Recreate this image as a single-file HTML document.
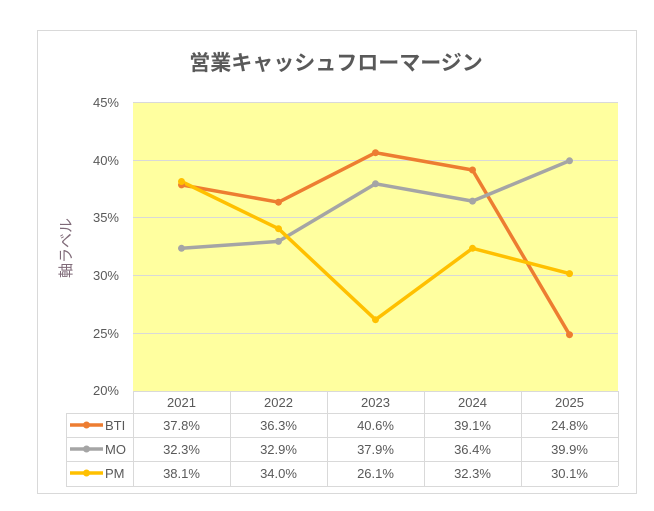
<!DOCTYPE html>
<html><head><meta charset="utf-8"><style>
body{margin:0;background:#fff}
svg{display:block;font-family:"Liberation Sans","Noto Sans CJK JP",sans-serif}
</style></head><body>
<svg width="654" height="511" viewBox="0 0 654 511">
<rect x="37.5" y="30.5" width="599" height="463" fill="#fff" stroke="#d9d9d9"/>
<text x="336" y="70" text-anchor="middle" font-size="21" font-weight="bold" fill="#595959" font-family="'Noto Sans CJK JP',sans-serif">営業キャッシュフローマージン</text>
<rect x="133" y="102" width="485" height="289" fill="#ffff9f"/>
<g stroke="#d9d9d9" stroke-width="1">
<line x1="133" y1="102.5" x2="618" y2="102.5"/>
<line x1="133" y1="160.5" x2="618" y2="160.5"/>
<line x1="133" y1="217.5" x2="618" y2="217.5"/>
<line x1="133" y1="275.5" x2="618" y2="275.5"/>
<line x1="133" y1="333.5" x2="618" y2="333.5"/>
</g>
<g font-size="13" fill="#595959" text-anchor="end">
<text x="119" y="107">45%</text><text x="119" y="165">40%</text><text x="119" y="222">35%</text>
<text x="119" y="280">30%</text><text x="119" y="338">25%</text><text x="119" y="395">20%</text>
</g>
<text transform="translate(71,248) rotate(-90)" text-anchor="middle" font-size="15" fill="#7f6a78" font-family="'Noto Sans CJK JP',sans-serif">軸ラベル</text>
<g fill="none" stroke-width="3.5" stroke-linejoin="round">
<polyline stroke="#ed7d31" points="181.5,184.9 278.5,202.2 375.5,152.7 472.5,170 569.5,334.7"/>
<polyline stroke="#a5a5a5" points="181.5,248.3 278.5,241.4 375.5,183.8 472.5,201.1 569.5,160.8"/>
<polyline stroke="#ffc000" points="181.5,181.5 278.5,228.7 375.5,319.7 472.5,248.3 569.5,273.6"/>
</g>
<g fill="#ed7d31"><circle cx="181.5" cy="184.9" r="3.5"/><circle cx="278.5" cy="202.2" r="3.5"/><circle cx="375.5" cy="152.7" r="3.5"/><circle cx="472.5" cy="170" r="3.5"/><circle cx="569.5" cy="334.7" r="3.5"/></g>
<g fill="#a5a5a5"><circle cx="181.5" cy="248.3" r="3.5"/><circle cx="278.5" cy="241.4" r="3.5"/><circle cx="375.5" cy="183.8" r="3.5"/><circle cx="472.5" cy="201.1" r="3.5"/><circle cx="569.5" cy="160.8" r="3.5"/></g>
<g fill="#ffc000"><circle cx="181.5" cy="181.5" r="3.5"/><circle cx="278.5" cy="228.7" r="3.5"/><circle cx="375.5" cy="319.7" r="3.5"/><circle cx="472.5" cy="248.3" r="3.5"/><circle cx="569.5" cy="273.6" r="3.5"/></g>
<g stroke="#d9d9d9" stroke-width="1" fill="none">
<line x1="133" y1="391.5" x2="618" y2="391.5"/>
<line x1="66" y1="413.5" x2="618" y2="413.5"/>
<line x1="66" y1="437.5" x2="618" y2="437.5"/>
<line x1="66" y1="461.5" x2="618" y2="461.5"/>
<line x1="66" y1="486.5" x2="618" y2="486.5"/>
<line x1="66.5" y1="413" x2="66.5" y2="486"/>
<line x1="133.5" y1="391" x2="133.5" y2="486"/>
<line x1="230.5" y1="391" x2="230.5" y2="486"/>
<line x1="327.5" y1="391" x2="327.5" y2="486"/>
<line x1="424.5" y1="391" x2="424.5" y2="486"/>
<line x1="521.5" y1="391" x2="521.5" y2="486"/>
<line x1="618.5" y1="391" x2="618.5" y2="486"/>
</g>
<g font-size="13" fill="#595959" text-anchor="middle">
<text x="181.5" y="407">2021</text><text x="278.5" y="407">2022</text><text x="375.5" y="407">2023</text><text x="472.5" y="407">2024</text><text x="569.5" y="407">2025</text>
<text x="181.5" y="430">37.8%</text><text x="278.5" y="430">36.3%</text><text x="375.5" y="430">40.6%</text><text x="472.5" y="430">39.1%</text><text x="569.5" y="430">24.8%</text>
<text x="181.5" y="454">32.3%</text><text x="278.5" y="454">32.9%</text><text x="375.5" y="454">37.9%</text><text x="472.5" y="454">36.4%</text><text x="569.5" y="454">39.9%</text>
<text x="181.5" y="478">38.1%</text><text x="278.5" y="478">34.0%</text><text x="375.5" y="478">26.1%</text><text x="472.5" y="478">32.3%</text><text x="569.5" y="478">30.1%</text>
</g>
<g stroke-width="3.5">
<line x1="70" y1="425" x2="103" y2="425" stroke="#ed7d31"/><circle cx="86.5" cy="425" r="3.5" fill="#ed7d31" stroke="none"/>
<line x1="70" y1="449" x2="103" y2="449" stroke="#a5a5a5"/><circle cx="86.5" cy="449" r="3.5" fill="#a5a5a5" stroke="none"/>
<line x1="70" y1="473" x2="103" y2="473" stroke="#ffc000"/><circle cx="86.5" cy="473" r="3.5" fill="#ffc000" stroke="none"/>
</g>
<g font-size="13" fill="#595959">
<text x="105" y="430">BTI</text><text x="105" y="454">MO</text><text x="105" y="478">PM</text>
</g>
</svg>
</body></html>
